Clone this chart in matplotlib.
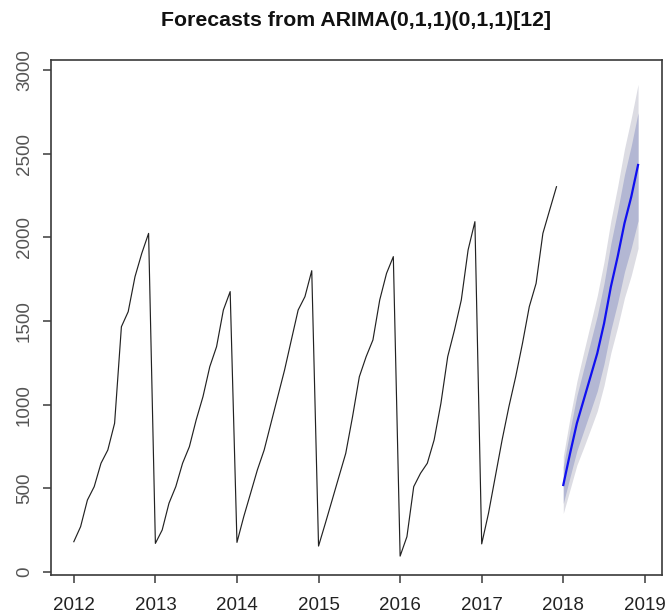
import numpy as np
import matplotlib
matplotlib.use("Agg")
import matplotlib.pyplot as plt

plt.rcParams['font.family'] = ['Liberation Sans', 'DejaVu Sans']

# Monthly observations, Jan 2012 .. Dec 2017
obs_2012 = [181, 271, 430, 510, 650, 729, 889, 1466, 1556, 1765, 1905, 2024]
obs_2013 = [171, 251, 411, 510, 650, 749, 909, 1048, 1227, 1347, 1566, 1676]
obs_2014 = [177, 331, 470, 610, 729, 889, 1048, 1207, 1387, 1566, 1646, 1801]
obs_2015 = [155, 291, 430, 570, 709, 928, 1167, 1287, 1387, 1626, 1785, 1885]
obs_2016 = [95, 211, 510, 590, 650, 789, 1008, 1287, 1447, 1626, 1925, 2094]
obs_2017 = [168, 351, 570, 789, 988, 1167, 1367, 1586, 1725, 2024, 2164, 2303]

# Forecasts for 2018 with 80% and 95% prediction intervals
fc_mean = [520, 709, 889, 1028, 1167, 1307, 1486, 1705, 1885, 2084, 2243, 2433]
lo80 = [410, 569, 724, 843, 962, 1082, 1246, 1447, 1610, 1794, 1938, 2100]
hi80 = [630, 849, 1054, 1213, 1372, 1532, 1726, 1963, 2160, 2374, 2548, 2745]
lo95 = [350, 494, 639, 743, 852, 962, 1116, 1310, 1465, 1639, 1773, 1935]
hi95 = [690, 924, 1139, 1313, 1482, 1652, 1856, 2100, 2305, 2529, 2713, 2915]

start_year = 2012
year_ticks = [2012, 2013, 2014, 2015, 2016, 2017, 2018, 2019]
value_ticks = [0, 500, 1000, 1500, 2000, 2500, 3000]
title = "Forecasts from ARIMA(0,1,1)(0,1,1)[12]"

observed = np.concatenate([obs_2012, obs_2013, obs_2014, obs_2015, obs_2016, obs_2017])
t_obs = start_year + np.arange(len(observed)) / 12.0
t_fc = t_obs[-1] + (np.arange(len(fc_mean)) + 1) / 12.0

fig = plt.figure(figsize=(6.68, 6.13), dpi=100)
ax_rect = [0.0763, 0.062, 0.9147, 0.840]
ax = fig.add_axes(ax_rect)

ax.fill_between(t_fc, lo95, hi95, color="#DCDCE3", linewidth=0)
ax.fill_between(t_fc, lo80, hi80, color="#B3B7D3", linewidth=0)
ax.plot(t_obs, observed, color="#222222", linewidth=0.85)
ax.plot(t_fc, fc_mean, color="#1010F0", linewidth=1.6)

ax.set_xlim(2011.72, 2019.21)
ax.set_ylim(-18, 3060)
ax.set_xticks(year_ticks)
ax.set_xticklabels([str(y) for y in year_ticks])
ax.set_yticks(value_ticks)
ax.set_yticklabels([str(v) for v in value_ticks], rotation=90, va="center")

for s in ax.spines.values():
    s.set_color("#3a3a3a")
    s.set_linewidth(1.2)

ax.tick_params(axis="x", length=6, width=1.1, color="#3a3a3a", pad=10,
               labelsize=13.5, labelcolor="#222222")
ax.tick_params(axis="y", length=6, width=1.1, color="#3a3a3a", pad=7,
               labelsize=13.5, labelcolor="#555555")

# title centred over the plotting region
fig.text(ax_rect[0] + ax_rect[2] / 2, 0.966, title, ha="center", va="center",
         fontsize=15.3, fontweight="bold", color="#111111")

fig.savefig("out.png", dpi=100)
